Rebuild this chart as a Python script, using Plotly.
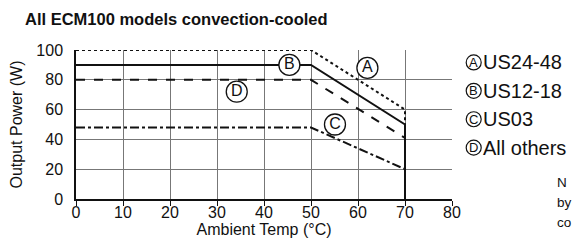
import plotly.graph_objects as go

# Data
temp_a = [0, 50, 70, 70]
power_a = [100, 100, 60, 0]
temp_b = [0, 50, 70, 70]
power_b = [90, 90, 50, 0]
temp_c = [0, 50, 70, 70]
power_c = [48, 48, 20, 0]
temp_d = [0, 50, 70, 70]
power_d = [80, 80, 41, 0]

label_letters = ["A", "B", "C", "D"]
label_x = [62, 45.4, 55.1, 34.2]
label_y = [88, 90, 50, 72]

legend_names = ["US24-48", "US12-18", "US03", "All others"]
note_lines = ["N", "by", "co"]

x_ticks = [0, 10, 20, 30, 40, 50, 60, 70, 80]
y_ticks = [0, 20, 40, 60, 80, 100]

FONT = "Liberation Sans, Arial, sans-serif"
fig = go.Figure()

styles = [
    (temp_a, power_a, "dot"),
    (temp_b, power_b, "solid"),
    (temp_c, power_c, "dashdot"),
    (temp_d, power_d, "dash"),
]
for xs, ys, dash in styles:
    fig.add_trace(go.Scatter(x=xs, y=ys, mode="lines",
                             line=dict(color="#111", width=2, dash=dash),
                             showlegend=False, hoverinfo="skip"))

fig.add_trace(go.Scatter(
    x=label_x, y=label_y, mode="markers+text", text=label_letters,
    textposition="middle center",
    textfont=dict(family=FONT, size=16, color="#111"),
    marker=dict(symbol="circle", size=21, color="white",
                line=dict(color="#111", width=1.3)),
    showlegend=False, hoverinfo="skip", cliponaxis=False))

PL, PR, PT, PB = 76, 452, 49.5, 199.5
PW, PH = PR - PL, PB - PT


def px(x):
    return (x - PL) / PW


def py(y):
    return (PB - y) / PH


shapes = []
annotations = []
leg_y0 = 62
leg_dy = 28.6
for i, (letter, name) in enumerate(zip(label_letters, legend_names)):
    yc = leg_y0 + i * leg_dy
    shapes.append(dict(type="circle", xref="paper", yref="paper",
                       xsizemode="pixel", ysizemode="pixel",
                       xanchor=px(473.7), yanchor=py(yc),
                       x0=-7.5, x1=7.5, y0=-7.5, y1=7.5,
                       line=dict(color="#111", width=1.2)))
    annotations.append(dict(xref="paper", yref="paper",
                            x=px(473.7), y=py(yc),
                            text=letter, showarrow=False,
                            xanchor="center", yanchor="middle",
                            font=dict(family=FONT, size=13, color="#111")))
    annotations.append(dict(xref="paper", yref="paper",
                            x=px(481), y=py(yc),
                            text=name, showarrow=False,
                            xanchor="left", yanchor="middle",
                            font=dict(family=FONT, size=20, color="#111")))

for i, line in enumerate(note_lines):
    yc = 183 + i * 20
    annotations.append(dict(xref="paper", yref="paper",
                            x=px(555), y=py(yc),
                            text=line, showarrow=False,
                            xanchor="left", yanchor="middle",
                            font=dict(family=FONT, size=13.5, color="#111")))

annotations.append(dict(xref="paper", yref="paper",
                        x=px(23), y=py(18),
                        text="<b>All ECM100 models convection-cooled</b>",
                        showarrow=False, xanchor="left", yanchor="middle",
                        font=dict(family=FONT, size=16.5, color="#111")))

fig.update_layout(
    width=573, height=244,
    margin=dict(l=PL, r=573 - PR, t=PT, b=244 - PB, autoexpand=False),
    paper_bgcolor="white", plot_bgcolor="white",
    shapes=shapes, annotations=annotations,
    font=dict(family=FONT, color="#111"),
)
fig.update_xaxes(range=[0, 80], tickvals=x_ticks, showgrid=True,
                 gridcolor="#777", gridwidth=1.3, zeroline=False,
                 showline=True, linecolor="#111", linewidth=1.5,
                 ticks="outside", ticklen=5, tickcolor="#111",
                 tickfont=dict(size=16), automargin=False,
                 ticklabelstandoff=-7,
                 title=dict(text="Ambient Temp (°C)", font=dict(size=16), standoff=0),
                 mirror=False)
fig.update_yaxes(range=[0, 100], tickvals=y_ticks, showgrid=True,
                 gridcolor="#777", gridwidth=1.3, zeroline=False,
                 showline=True, linecolor="#111", linewidth=1.5,
                 ticks="", tickfont=dict(size=16), ticklabelstandoff=8,
                 automargin=False,
                 title=dict(text="Output Power (W)", font=dict(size=16), standoff=10))

fig.write_html("out.html",
               config={"displayModeBar": False},
               post_script="document.body.style.margin='0';"
                           "document.body.style.overflow='hidden';")
